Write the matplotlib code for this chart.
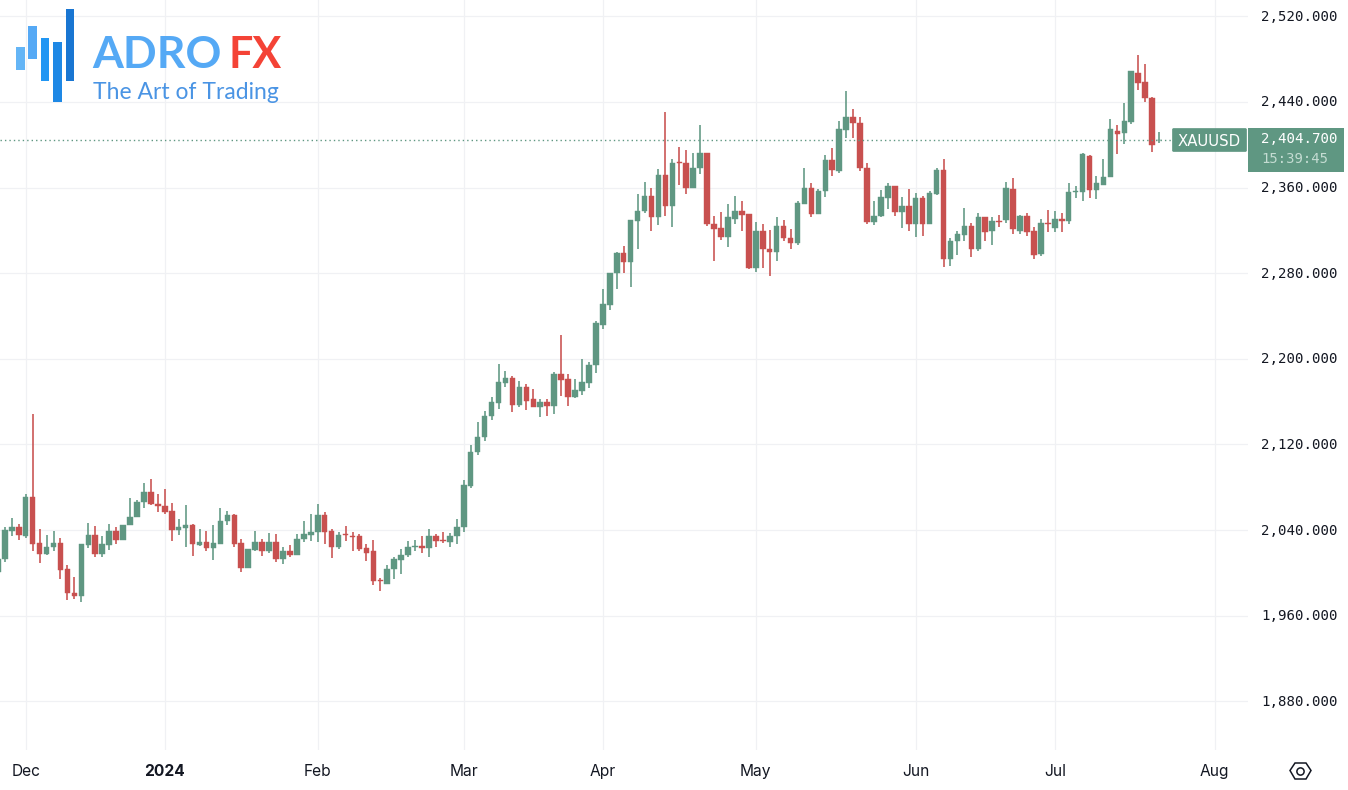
import matplotlib
matplotlib.use('Agg')
import matplotlib.pyplot as plt
from matplotlib.patches import Rectangle, Polygon, FancyBboxPatch
from matplotlib.transforms import ScaledTranslation

# -------------------------------------------------------
# data: daily XAUUSD candles
# -------------------------------------------------------
opens = [
    2001, 2013, 2039, 2043, 2034, 2071, 2028, 2018, 2024, 2028,
    2004, 1981, 1978, 2026, 2035, 2018, 2026, 2039, 2031, 2045,
    2052, 2066, 2076, 2064, 2062, 2058, 2040, 2042, 2045, 2026,
    2029, 2023, 2027, 2048, 2054, 2028, 2005, 2021, 2029, 2020,
    2029, 2013, 2020, 2017, 2032, 2035, 2038, 2054, 2039, 2024,
    2036, 2034.5, 2034, 2023, 2020, 1993, 1990, 2004, 2012, 2017,
    2024, 2025, 2023, 2034, 2031, 2029, 2034, 2043, 2081, 2113,
    2127, 2147, 2159, 2177, 2182, 2157, 2174, 2162, 2155, 2160,
    2156, 2186, 2181, 2164, 2170, 2177, 2194, 2232, 2250, 2280,
    2299, 2290, 2329, 2338, 2352, 2332, 2372, 2343, 2384, 2383,
    2360, 2378, 2392, 2326, 2322, 2314, 2331, 2338, 2335, 2285,
    2319, 2303, 2300, 2324, 2313, 2308, 2345, 2360, 2335, 2357,
    2386, 2375, 2414, 2426, 2420, 2378, 2328, 2333, 2350, 2361,
    2337, 2343, 2326, 2350, 2326, 2354, 2376, 2293, 2310, 2316,
    2324, 2303, 2332, 2319, 2329, 2330, 2359, 2319, 2333, 2319,
    2298, 2327, 2322, 2331, 2329, 2356, 2356, 2389, 2358, 2362,
    2370, 2413, 2411, 2421, 2467, 2459, 2444, 2404,
]
closes = [
    2013, 2040, 2043, 2035, 2071, 2027, 2018, 2024, 2028, 2003,
    1981, 1978, 2027, 2035, 2018, 2027, 2039, 2031, 2045, 2052,
    2066, 2076, 2064, 2062, 2057, 2040, 2043, 2045, 2027, 2029,
    2023, 2028, 2048, 2054, 2027, 2005, 2022, 2029, 2020, 2029,
    2013, 2020, 2017, 2032, 2036, 2038, 2054, 2038, 2024, 2035,
    2035, 2033.5, 2022, 2019, 1992, 1992, 2004, 2013, 2017, 2024,
    2025, 2023, 2034, 2030, 2030, 2034, 2043, 2082, 2113, 2127,
    2147, 2160, 2178, 2182, 2157, 2174, 2161, 2155, 2160, 2156,
    2186, 2180, 2164, 2171, 2178, 2194, 2233, 2251, 2280, 2299,
    2290, 2330, 2338, 2352, 2332, 2372, 2343, 2383, 2383, 2360,
    2378, 2392, 2326, 2321, 2314, 2332, 2338, 2334, 2285, 2319,
    2303, 2300, 2324, 2313, 2308, 2346, 2360, 2335, 2357, 2386,
    2376, 2415, 2426, 2420, 2378, 2328, 2333, 2351, 2361, 2337,
    2343, 2326, 2350, 2326, 2355, 2376, 2293, 2310, 2317, 2324,
    2303, 2332, 2318, 2329, 2328, 2360, 2321, 2333, 2318, 2297,
    2327, 2326, 2331, 2329, 2356, 2357, 2391, 2358, 2364, 2370,
    2415, 2410, 2422, 2469, 2458, 2444, 2400, 2404.7,
]
highs = [
    2015, 2043, 2051, 2046, 2074, 2148, 2041, 2035, 2039, 2033,
    2007, 1996, 2027, 2047, 2044, 2034, 2046, 2043, 2045, 2070,
    2068, 2084, 2088, 2074, 2078, 2065, 2050, 2063, 2046, 2041,
    2039, 2045, 2061, 2058, 2055, 2032, 2022, 2039, 2032, 2037,
    2036, 2024, 2026, 2036, 2048, 2055, 2064, 2057, 2041, 2038,
    2044, 2038, 2036, 2027, 2031, 1995, 2007, 2015, 2022, 2030,
    2031, 2034, 2041, 2036, 2038, 2037, 2050, 2087, 2119, 2141,
    2151, 2164, 2195, 2189, 2184, 2179, 2176, 2172, 2162, 2162,
    2188, 2222, 2186, 2181, 2200, 2197, 2235, 2265, 2280, 2300,
    2305, 2330, 2354, 2365, 2360, 2377, 2431, 2387, 2398, 2395,
    2392, 2418, 2392, 2333, 2337, 2345, 2352, 2347, 2335, 2328,
    2326, 2320, 2332, 2330, 2321, 2347, 2378, 2364, 2359, 2390,
    2397, 2422, 2450, 2433, 2426, 2383, 2347, 2358, 2364, 2361,
    2351, 2359, 2355, 2352, 2357, 2378, 2387, 2313, 2319, 2341,
    2327, 2336, 2332, 2332, 2334, 2365, 2369, 2334, 2336, 2323,
    2331, 2339, 2338, 2336, 2364, 2361, 2392, 2390, 2371, 2387,
    2424, 2418, 2439, 2469, 2484, 2475, 2445, 2412,
]
lows = [
    2000, 2010, 2034, 2031, 2033, 2020, 2009, 2017, 2020, 1994,
    1975, 1976, 1973, 2023, 2015, 2015, 2021, 2027, 2031, 2045,
    2052, 2061, 2063, 2057, 2055, 2030, 2035, 2024, 2016, 2025,
    2020, 2012, 2027, 2045, 2024, 2001, 2005, 2020, 2016, 2019,
    2010, 2008, 2015, 2017, 2029, 2030, 2029, 2027, 2014, 2022,
    2030, 2020, 2020, 2011, 1989, 1983, 1990, 1994, 1999, 2015,
    2020, 2019, 2015, 2024, 2028, 2024, 2027, 2038, 2079, 2110,
    2123, 2143, 2153, 2174, 2150, 2155, 2152, 2155, 2146, 2147,
    2148, 2165, 2156, 2163, 2166, 2173, 2187, 2228, 2246, 2265,
    2280, 2267, 2303, 2336, 2319, 2325, 2333, 2323, 2362, 2354,
    2360, 2373, 2324, 2291, 2311, 2304, 2326, 2319, 2284, 2281,
    2285, 2277, 2291, 2310, 2303, 2306, 2345, 2332, 2335, 2351,
    2371, 2374, 2406, 2406, 2375, 2326, 2325, 2332, 2340, 2333,
    2322, 2319, 2314, 2315, 2326, 2353, 2286, 2287, 2297, 2310,
    2295, 2301, 2310, 2306, 2323, 2327, 2317, 2317, 2315, 2293,
    2296, 2318, 2318, 2318, 2326, 2350, 2347, 2350, 2349, 2362,
    2370, 2391, 2401, 2419, 2451, 2440, 2393, 2402,
]

# first candle of each month
month_pos = [4, 24, 46, 67, 87, 109, 132, 152, 175]
month_labels = ['Dec', '2024', 'Feb', 'Mar', 'Apr', 'May', 'Jun', 'Jul', 'Aug']
price_ticks = [1880, 1960, 2040, 2120, 2200, 2280, 2360, 2440, 2520]
last_price = 2404.7

GREEN = '#5f9782'
RED = '#c8504f'
TEXT = '#131722'
GRID = '#f0f1f4'

fig = plt.figure(figsize=(13.48, 7.9), dpi=100, facecolor='white')
ax = fig.add_axes([0, 1 - 750 / 790, 1248 / 1348, 750 / 790])


def fx(px):
    return px / 1348


def fy(py):
    return 1 - py / 790


# -------------------------------------------------------
# candles
# -------------------------------------------------------
xs = list(range(len(opens)))
colors = [GREEN if c >= o else RED for o, c in zip(opens, closes)]
ax.vlines(xs, lows, highs, colors=colors, linewidth=1.15, zorder=3)
ax.bar(xs, [abs(c - o) for o, c in zip(opens, closes)],
       bottom=[min(o, c) for o, c in zip(opens, closes)],
       width=0.8, color=colors, edgecolor=colors, linewidth=0.3, zorder=4)

ax.set_xlim(0.302, 179.79)
ax.set_ylim(1834.5, 2535.2)

# dotted last price line up to the symbol label
ax.plot([0.302, 168.9], [last_price, last_price], color=GREEN, lw=1.0,
        linestyle=(0, (1, 2.2)), zorder=5)

# -------------------------------------------------------
# axes
# -------------------------------------------------------
for s in ax.spines.values():
    s.set_visible(False)
ax.set_xticks(month_pos)
ax.set_xticklabels(month_labels, fontsize=11.2, family='Inter', color=TEXT)
ax.get_xticklabels()[1].set_fontweight('bold')
ax.yaxis.tick_right()
ax.set_yticks(price_ticks)
ax.set_yticklabels([f'{p:,.3f}' for p in price_ticks], fontsize=10.2,
                   family='DejaVu Sans Mono', color=TEXT)
ax.tick_params(axis='x', length=0, pad=10)
ax.tick_params(axis='y', length=0, pad=9.5)
ax.grid(True, color=GRID, linewidth=0.9, zorder=0)
ax.set_axisbelow(True)
# price labels sit about a pixel higher than centred
for t in ax.yaxis.get_major_ticks():
    t.label2.set_transform(t.label2.get_transform()
                           + ScaledTranslation(0, 1 / 100, fig.dpi_scale_trans))

# -------------------------------------------------------
# price and symbol labels
# -------------------------------------------------------
fig.add_artist(FancyBboxPatch((fx(1172.5), fy(151.5)), 74 / 1348, 23 / 790,
                              boxstyle='round,pad=0,rounding_size=0.0012',
                              transform=fig.transFigure, fc=GREEN, ec=GREEN, lw=0.5))
fig.add_artist(Rectangle((fx(1248), fy(172)), 96 / 1348, 44 / 790,
                         transform=fig.transFigure, fc=GREEN, ec='none'))
fig.text(fx(1209.5), fy(141), 'XAUUSD', color='white', fontsize=10.7, ha='center',
         va='center', family='DejaVu Sans')
fig.text(fx(1261.5), fy(139), f'{last_price:,.3f}', color='white', fontsize=10.2,
         va='center', family='DejaVu Sans Mono')
fig.text(fx(1261.5), fy(159), '15:39:45', color='#c4dcd2', fontsize=10,
         va='center', family='DejaVu Sans Mono')

# settings icon
fig.add_artist(Polygon([(fx(1290), fy(770.5)), (fx(1295), fy(763)), (fx(1306), fy(763)),
                        (fx(1311), fy(770.5)), (fx(1306), fy(779)), (fx(1295), fy(779))],
                       closed=True, fill=False, ec=TEXT, lw=1.1, transform=fig.transFigure))
fig.add_artist(plt.Line2D([fx(1300.3)], [fy(770.7)], marker='o', ms=5.2, mfc='white',
                          mec=TEXT, mew=1.1, transform=fig.transFigure))

# -------------------------------------------------------
# logo
# -------------------------------------------------------
logo_bars = [(16, 47.3, 22.7, '#64b5f6'), (28.3, 25.7, 33, '#55a9f5'),
             (40.7, 37.7, 43.3, '#2196f3'), (53.3, 42.3, 60, '#1e88e5'),
             (65.7, 9, 72, '#1976d2')]
for x0, y0, h, col in logo_bars:
    fig.add_artist(Rectangle((fx(x0), fy(y0 + h)), 8.7 / 1348, h / 790,
                             transform=fig.transFigure, fc=col, ec='none'))
fig.text(fx(92), fy(68.3), 'ADRO', color='#55a9f5', fontsize=32, family='Lato',
         fontweight='bold', va='baseline')
fig.text(fx(228.5), fy(68.3), 'FX', color='#f44336', fontsize=31, family='Lato',
         fontweight='bold', va='baseline')
fig.text(fx(93), fy(99), 'The Art of Trading', color='#4a94e4', fontsize=16.5,
         family='Lato', fontweight='normal', va='baseline')

fig.savefig('out.png', dpi=100)
